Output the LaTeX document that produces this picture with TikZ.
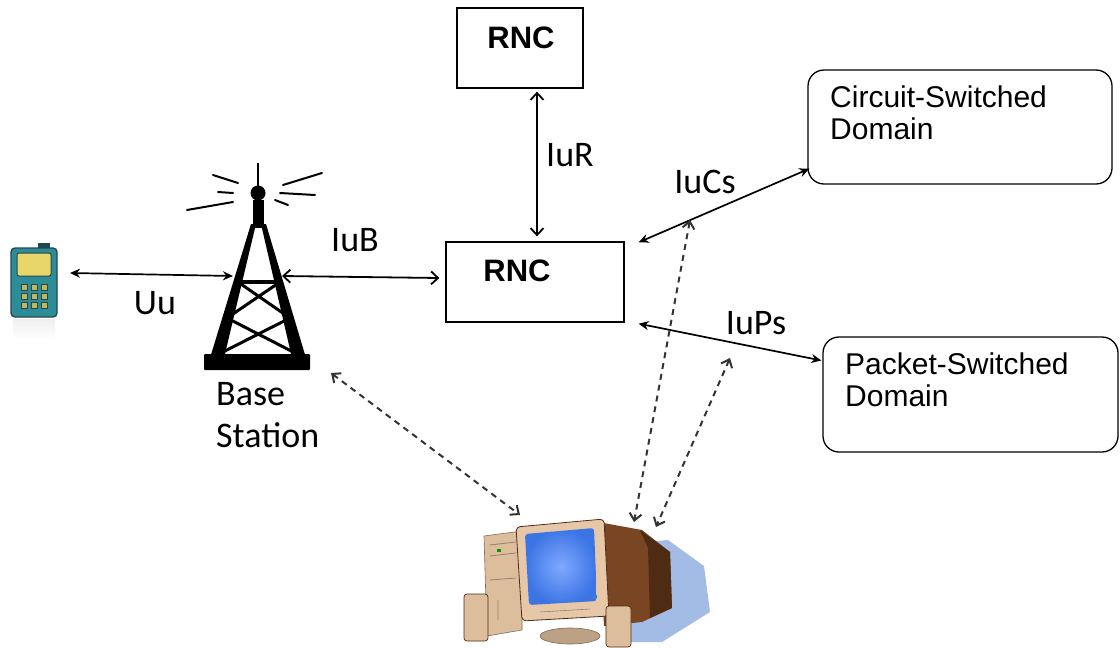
\documentclass[tikz,border=0pt]{standalone}
\usepackage{fontspec}
\setmainfont{Carlito}
\newfontfamily\boxfont{Liberation Sans}
\usetikzlibrary{arrows.meta}

\definecolor{phoneteal}{HTML}{2E8C97}
\definecolor{phonedark}{HTML}{1F4A50}
\definecolor{screenyel}{HTML}{E9D66B}
\definecolor{casetan}{HTML}{DDBE9C}
\definecolor{bezeltan}{HTML}{E6C8A8}
\definecolor{crtbrown}{HTML}{7A4522}
\definecolor{crtdark}{HTML}{4E2B13}
\definecolor{shadowblue}{HTML}{A3BCE6}
\definecolor{screenblue}{HTML}{3C74E4}
\definecolor{screenglow}{HTML}{7FA9FF}

\begin{document}
\begin{tikzpicture}[x=1pt, y=-1pt, every node/.style={inner sep=0pt}]
  \tikzstyle{rncbox} = [draw, line width=1.3pt, minimum height=80pt]
  \tikzstyle{domainbox} = [draw, line width=1.3pt, rounded corners=16pt]
  \tikzstyle{boxtext} = [font=\boxfont\fontsize{30}{32}\selectfont, align=left, anchor=north west]
  \tikzstyle{rnctext} = [font=\boxfont\bfseries\fontsize{31}{34}\selectfont]
  \tikzstyle{iface} = [font=\fontsize{36}{42}\selectfont]
  \tikzstyle{link} = [line width=1.7pt, {Stealth[length=10pt,width=9pt]}-{Stealth[length=10pt,width=9pt]}]
  \tikzstyle{openlink} = [line width=1.8pt, {Straight Barb[length=7pt,width=13pt]}-{Straight Barb[length=7pt,width=13pt]}]
  \tikzstyle{mgmt} = [line width=2pt, black!80, dash pattern=on 6pt off 5pt,
                      {Straight Barb[length=7pt,width=12pt]}-{Straight Barb[length=7pt,width=12pt]}]
  \useasboundingbox (0,0) rectangle (1120,648);

  % boxes
  \node (rncTop) [rncbox, minimum width=126pt] at (520,48) {};
  \node (rnc) [rncbox, minimum width=178pt] at (535,282) {};
  \node (rncTopText) [rnctext] at (521,38) {RNC};
  \node (rncText) [rnctext] at (517,271) {RNC};
  \node (csd) [domainbox, minimum width=304pt, minimum height=114pt] at (960,127) {};
  \node (psd) [domainbox, minimum width=295pt, minimum height=115pt] at (970.5,394.5) {};
  \node (csdText) [boxtext] at (830,86) {Circuit-Switched\\Domain};
  \node (psdText) [boxtext] at (845,353) {Packet-Switched\\Domain};

  % mobile phone
  \node (phone) [minimum width=48pt, minimum height=72pt] at (34,282) {};
  \fill[phonedark] (38,243) rectangle (50,250);
  \shade[top color=gray!12, bottom color=white] (13,319) rectangle (55,340);
  \filldraw[fill=phoneteal, draw=phonedark, line width=1.4pt, rounded corners=4pt] (11,248) rectangle (57,317);
  \filldraw[fill=screenyel, draw=phonedark, line width=1pt, rounded corners=2pt] (17,253) rectangle (51,276);
  \foreach \x in {24,34,44}
    \foreach \y in {287,296,305}
      \filldraw[fill=screenyel!85!black, draw=phonedark, line width=0.6pt] (\x-3,\y-3) rectangle (\x+3,\y+3);

  % base station tower
  \node (tower) [minimum width=104pt, minimum height=210pt] at (256,265) {};
  \draw[line width=2.5pt] (258,163) -- (258,190);
  \fill (258,193) circle (7.5pt);
  \fill (253,200) rectangle (264,228);
  \fill (251,224) -- (256,224) -- (224,358) -- (210,358) -- cycle;
  \fill (261,224) -- (266,224) -- (306,358) -- (292,358) -- cycle;
  \fill[rounded corners=1pt] (204,354) rectangle (310,370);
  \draw[line width=3.5pt] (238,282) -- (280,282);
  \draw[line width=3pt] (238,282) -- (290,318) (280,282) -- (227,318);
  \draw[line width=3pt] (227,318) -- (299,355) (290,318) -- (217,355);
  \draw[line width=2pt, line cap=round]
    (213,175) -- (238,183)  (218,192) -- (233,193)  (187,210) -- (233,202)
    (283,185) -- (322,173)  (280,193) -- (315,195)  (275,200) -- (288,205);
  \node (bsText) [iface, align=left, anchor=north west] at (216,382) {Base\\Station};

  % computer
  \node (pc) [minimum width=250pt, minimum height=135pt] at (587,582) {};
  \fill[shadowblue] (612,545) -- (668,540) -- (704,566) -- (710,612) -- (662,642) -- (612,642) -- cycle;
  \fill[crtbrown] (598,522) -- (642,530) -- (670,552) -- (672,608) -- (642,622) -- (604,626) -- cycle;
  \fill[crtdark] (640,530) -- (670,552) -- (672,608) -- (650,618) -- (648,548) -- cycle;
  \filldraw[fill=casetan, draw=crtdark!70, line width=0.6pt] (484,536) -- (522,531) -- (522,630) -- (487,636) -- cycle;
  \draw[crtdark!60, line width=0.8pt] (490,545) -- (516,542) (490,556) -- (516,553) (490,580) -- (516,578) (498,600) -- (498,620);
  \fill[green!60!black] (497,549) rectangle (501,552);
  \filldraw[fill=casetan!85!black, draw=crtdark!70, line width=0.6pt] (570,636) ellipse (30pt and 8pt);
  \filldraw[fill=bezeltan, draw=crtdark, line width=0.8pt, rounded corners=4pt] (516,527) -- (604,519) -- (609,616) -- (522,621) -- cycle;
  \shade[inner color=screenglow, outer color=screenblue, rounded corners=3pt] (525,534) -- (594,528) -- (597,601) -- (529,605) -- cycle;
  \draw[crtdark!60, line width=0.6pt] (540,612) -- (590,609);
  \filldraw[fill=casetan, draw=crtdark, line width=0.7pt, rounded corners=3pt] (464,594) rectangle (488,641);
  \filldraw[fill=casetan, draw=crtdark, line width=0.7pt, rounded corners=3pt] (606,606) rectangle (631,647);

  % interfaces
  \coordinate (uuEnd) at (70,273);
  \coordinate (towerIn) at (233,276);
  \coordinate (towerOut) at (282,276);
  \coordinate (towerMgmt) at (331,373);
  \coordinate (pcA) at (520,515);
  \coordinate (pcB) at (634,522);
  \coordinate (pcC) at (656,527);
  \coordinate (iuCsMgmt) at (690,220);
  \coordinate (iuPsMgmt) at (730,358);
  \draw[link] (uuEnd) -- (towerIn);
  \draw[openlink] (towerOut) -- ([xshift=-6pt, yshift=4pt]rnc.west);
  \draw[openlink] (rnc.north |- rncTop.south) ++(2,3) -- ([xshift=2pt, yshift=5pt]rnc.north);
  \draw[link] ([xshift=14pt, yshift=-1pt]rnc.north east) -- ([xshift=2pt, yshift=16pt]csd.south west);
  \draw[link] ([xshift=14pt, yshift=-1pt]rnc.south east) -- ([xshift=-1pt, yshift=34pt]psd.west);
  \draw[mgmt] (towerMgmt) -- (pcA);
  \draw[mgmt] (iuCsMgmt) -- (pcB);
  \draw[mgmt] (iuPsMgmt) -- (pcC);

  \node (uuLabel) [iface] at (155,303) {Uu};
  \node (iubLabel) [iface] at (355,240) {IuB};
  \node (iurLabel) [iface] at (570,155) {IuR};
  \node (iucsLabel) [iface] at (705,182) {IuCs};
  \node (iupsLabel) [iface] at (756,323) {IuPs};
\end{tikzpicture}
\end{document}
